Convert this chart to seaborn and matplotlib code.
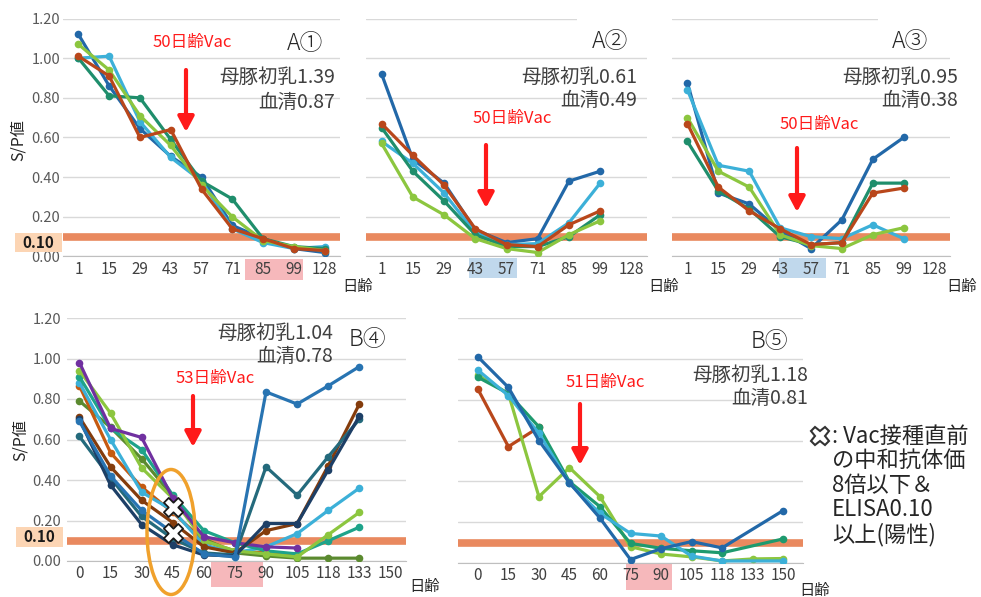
import numpy as np
import pandas as pd
import matplotlib
matplotlib.use("Agg")
import matplotlib.pyplot as plt
import seaborn as sns
from matplotlib.patches import Rectangle, Ellipse, FancyArrowPatch
from matplotlib.lines import Line2D

nan = np.nan

# ---------------- data ----------------
A_days = ["1", "15", "29", "43", "57", "71", "85", "99", "128"]
B_days = ["0", "15", "30", "45", "60", "75", "90", "105", "118", "133", "150"]

a1_blue   = [1.12, 0.86, 0.645, 0.505, 0.40, 0.157, 0.09, 0.04, 0.02]
a1_cyan   = [1.00, 1.01, 0.68, 0.50, 0.38, 0.14, 0.07, 0.04, 0.05]
a1_dgreen = [1.00, 0.81, 0.80, 0.59, 0.38, 0.29, 0.09, 0.05, 0.04]
a1_lgreen = [1.07, 0.94, 0.71, 0.56, 0.36, 0.20, 0.08, 0.05, 0.03]
a1_brown  = [1.01, 0.91, 0.60, 0.64, 0.34, 0.14, 0.09, 0.04, 0.03]

a2_blue   = [0.92, 0.49, 0.37, 0.135, 0.07, 0.09, 0.38, 0.43, nan]
a2_cyan   = [0.58, 0.47, 0.32, 0.12, 0.06, 0.065, 0.17, 0.37, nan]
a2_dgreen = [0.65, 0.43, 0.28, 0.11, 0.05, 0.05, 0.10, 0.21, nan]
a2_lgreen = [0.57, 0.30, 0.21, 0.09, 0.04, 0.02, 0.11, 0.18, nan]
a2_brown  = [0.67, 0.51, 0.36, 0.14, 0.06, 0.05, 0.16, 0.23, nan]

a3_blue   = [0.875, 0.32, 0.265, 0.13, 0.04, 0.185, 0.49, 0.60, nan]
a3_cyan   = [0.84, 0.46, 0.43, 0.145, 0.10, 0.09, 0.16, 0.09, nan]
a3_dgreen = [0.58, 0.33, 0.24, 0.10, 0.06, 0.07, 0.37, 0.37, nan]
a3_lgreen = [0.70, 0.43, 0.35, 0.11, 0.055, 0.04, 0.11, 0.145, nan]
a3_brown  = [0.67, 0.35, 0.23, 0.14, 0.06, 0.07, 0.32, 0.345, nan]

b4_purple = [0.98, 0.655, 0.61, 0.31, 0.12, 0.09, 0.07, 0.064, nan, nan, nan]
b4_lgreen = [0.94, 0.73, 0.46, 0.31, 0.10, 0.05, 0.035, 0.02, 0.13, 0.24, nan]
b4_teal   = [0.91, 0.655, 0.55, 0.325, 0.15, 0.09, 0.05, 0.035, 0.10, 0.167, nan]
b4_orange = [0.865, 0.535, 0.365, 0.24, 0.10, 0.05, 0.04, 0.03, nan, nan, nan]
b4_olive  = [0.79, 0.66, 0.505, 0.32, 0.11, 0.04, 0.025, 0.014, 0.014, 0.014, nan]
b4_cyan   = [0.88, 0.60, 0.34, 0.25, 0.08, 0.04, 0.07, 0.135, 0.25, 0.36, nan]
b4_dbrown = [0.71, 0.465, 0.30, 0.19, 0.07, 0.04, 0.15, 0.185, 0.47, 0.775, nan]
b4_dteal  = [0.615, 0.41, 0.22, 0.11, 0.04, 0.03, 0.465, 0.325, 0.515, 0.70, nan]
b4_blue   = [0.69, 0.42, 0.25, 0.14, 0.035, 0.02, 0.835, 0.775, 0.865, 0.96, nan]
b4_navy   = [0.70, 0.375, 0.18, 0.08, 0.03, 0.025, 0.185, 0.185, 0.45, 0.715, nan]

b4_mark_pos = [3, 3]          # day 45
b4_mark_val = [0.265, 0.14]

b5_blue   = [1.01, 0.86, 0.60, 0.393, 0.22, 0.017, 0.07, 0.105, 0.074, nan, 0.257]
b5_cyan   = [0.945, 0.82, 0.635, 0.39, 0.243, 0.145, 0.132, 0.034, 0.01, nan, 0.01]
b5_dgreen = [0.91, 0.83, 0.667, 0.398, 0.276, 0.096, 0.072, 0.06, 0.05, nan, 0.118]
b5_lgreen = [0.92, 0.83, 0.325, 0.467, 0.325, 0.08, 0.044, 0.03, 0.01, 0.02, 0.022]
b5_brown  = [0.852, 0.57, 0.665, nan, nan, nan, nan, nan, nan, nan, nan]

C_BLUE, C_CYAN, C_DGREEN, C_LGREEN, C_BROWN = "#2268a8", "#3cb0d8", "#1f8e6c", "#8cc63f", "#b9471b"

# ---------------- figure ----------------
W, H = 981, 597
sns.set_style("white")
plt.rcParams["font.family"] = ["Noto Sans CJK JP", "DejaVu Sans"]

fig = plt.figure(figsize=(W / 100, H / 100), dpi=100)


def fx(x):
    return x / W


def fy(y):
    return 1 - y / H


def add_ax(l, t, r, b):
    return fig.add_axes([l / W, 1 - b / H, (r - l) / W, (b - t) / H])


def ftext(x, y, s, **kw):
    kw.setdefault("ha", "center")
    kw.setdefault("va", "center")
    return fig.text(fx(x), fy(y), s, **kw)


def frect(l, t, r, b, color, z=-1):
    fig.add_artist(Rectangle((fx(l), fy(b)), (r - l) / W, (b - t) / H,
                             transform=fig.transFigure, facecolor=color,
                             edgecolor="none", zorder=z))


def panel(box, days, series, colors, xlim, show_y, ypad):
    ax = add_ax(*box)
    rows = []
    for name, vals in series.items():
        for i, v in enumerate(vals):
            if not np.isnan(v):
                rows.append({"pig": name, "pos": i, "val": v})
    df = pd.DataFrame(rows)
    ax.axhline(0.10, color="#e9895f", lw=5.5, zorder=1.5, solid_capstyle="butt")
    sns.lineplot(data=df, x="pos", y="val", hue="pig", hue_order=list(series),
                 palette=colors, marker="o", markersize=5.5, markeredgewidth=0,
                 linewidth=2.3, legend=False, errorbar=None, ax=ax, zorder=3)
    ax.set_xlim(*xlim)
    ax.set_ylim(0, 1.2)
    ax.set_xticks(range(len(days)))
    ax.set_xticklabels(days)
    yt = [0, 0.2, 0.4, 0.6, 0.8, 1.0, 1.2]
    ax.set_yticks(yt)
    ax.set_yticklabels([f"{v:.2f}" for v in yt])
    ax.grid(axis="y", color="#d9d9d9", lw=1)
    ax.grid(axis="x", visible=False)
    ax.set_axisbelow(True)
    for s in ["top", "right", "left"]:
        ax.spines[s].set_visible(False)
    ax.spines["bottom"].set_color("#bfbfbf")
    ax.tick_params(axis="x", length=0, labelsize=11, colors="#404040", pad=3)
    ax.tick_params(axis="y", length=0, labelsize=10.5, colors="#595959", pad=ypad,
                   labelleft=show_y)
    ax.set_xlabel("")
    ax.set_ylabel("")
    ax.patch.set_alpha(0)
    return ax


A_xlim = (-0.5, 8.5)

panel((63, 18.5, 340, 256.5), A_days,
      {"p1": a1_blue, "p2": a1_cyan, "p3": a1_dgreen, "p4": a1_lgreen, "p5": a1_brown},
      [C_BLUE, C_CYAN, C_DGREEN, C_LGREEN, C_BROWN], A_xlim, True, 2)
panel((366, 18.5, 647, 256.5), A_days,
      {"p1": a2_blue, "p2": a2_cyan, "p3": a2_dgreen, "p4": a2_lgreen, "p5": a2_brown},
      [C_BLUE, C_CYAN, C_DGREEN, C_LGREEN, C_BROWN], A_xlim, False, 2)
panel((672, 18.5, 950, 256.5), A_days,
      {"p1": a3_blue, "p2": a3_cyan, "p3": a3_dgreen, "p4": a3_lgreen, "p5": a3_brown},
      [C_BLUE, C_CYAN, C_DGREEN, C_LGREEN, C_BROWN], A_xlim, False, 2)

b4_series = {"q1": b4_olive, "q2": b4_orange, "q3": b4_cyan, "q4": b4_teal,
             "q5": b4_lgreen, "q6": b4_purple, "q7": b4_dbrown, "q8": b4_dteal,
             "q9": b4_navy, "q10": b4_blue}
b4_colors = ["#5b8a2f", "#c55a11", "#3cb0d8", "#1ea38a", "#8cc63f", "#7030a0",
             "#843c0c", "#246a7c", "#1d3f66", "#2874b2"]
ax4 = panel((67, 318, 406, 561), B_days, b4_series, b4_colors, (-0.4, 10.5), True, 4.3)
sns.scatterplot(x=b4_mark_pos, y=b4_mark_val, marker="X", s=190, color="white",
                edgecolor="#1a1a1a", linewidth=1.3, zorder=6, ax=ax4, legend=False,
                clip_on=False)
ax4.set_xlabel("")
ax4.set_ylabel("")

panel((458, 318, 803, 563), B_days,
      {"r5": b5_brown, "r4": b5_lgreen, "r3": b5_dgreen, "r2": b5_cyan, "r1": b5_blue},
      ["#b9471b", "#8cc63f", "#1e9a6e", "#3cb0d8", "#2268a8"], (-0.65, 10.65), False, 2)

# ---------- highlight boxes behind tick labels ----------
PINK, LBLUE, PEACH = "#f6b8bb", "#c0d8ec", "#fcd5b4"
frect(245, 259, 303, 280, PINK)
frect(469, 258, 517, 278, LBLUE)
frect(779, 258, 826, 278, LBLUE)
frect(211, 562, 263, 587, PINK)
frect(626, 563, 672, 590, PINK)
frect(15, 233, 62, 252, PEACH, z=1)
frect(16, 527, 63, 547, PEACH, z=1)
ftext(38.5, 242.5, "0.10", fontsize=11, fontweight="bold", color="#1a1a1a", zorder=4)
ftext(39.5, 537, "0.10", fontsize=11, fontweight="bold", color="#1a1a1a", zorder=4)

# hidden parts of the top gridline in A2 / A3
frect(577, 14, 650, 24, "white", z=1)
frect(878, 14, 952, 24, "white", z=1)

# ---------- axis labels ----------
for x, y in [(358, 287), (664, 287), (962, 287), (425, 587), (815, 590)]:
    ftext(x, y, "日齢", fontsize=11, color="#262626")
ftext(18, 140, "S/P値", fontsize=11.5, rotation=90, color="#262626")
ftext(20, 440, "S/P値", fontsize=11.5, rotation=90, color="#262626")

# ---------- titles ----------
for x, y, s in [(305, 43, "A①"), (610, 42, "A②"), (910, 42, "A③"),
                (367, 340, "B④"), (769, 342, "B⑤")]:
    ftext(x, y, s, fontsize=16.5, color="#262626", fontweight="light")

# ---------- maternal info ----------
info = [(335, 77, 102, "1.39", "0.87"), (637, 77, 100, "0.61", "0.49"),
        (958, 77, 100, "0.95", "0.38"), (333, 333, 356, "1.04", "0.78"),
        (808, 375, 398, "1.18", "0.81")]
for xr, y1, y2, c, s in info:
    ftext(xr, y1, "母豚初乳" + c, ha="right", fontsize=14, color="#404040")
    ftext(xr, y2, "血清" + s, ha="right", fontsize=14, color="#404040")

# ---------- vaccination labels & arrows ----------
vac = [(192, 43, "50日齢Vac", 186, 70, 132),
       (512, 118, "50日齢Vac", 486, 145, 208),
       (819, 125, "50日齢Vac", 797, 148, 212),
       (215, 378, "53日齢Vac", 193, 396, 447),
       (605, 382, "51日齢Vac", 580, 404, 465)]
for tx, ty, s, ax_x, y0, y1 in vac:
    ftext(tx, ty, s, fontsize=12, color="#ff1a1a")
    fig.add_artist(FancyArrowPatch((fx(ax_x), fy(y0)), (fx(ax_x), fy(y1)),
                                   transform=fig.transFigure,
                                   arrowstyle="-|>,head_width=0.4,head_length=0.75",
                                   mutation_scale=12, color="#ff1a1a", lw=3,
                                   shrinkA=0, shrinkB=0, zorder=5))

# ---------- orange ellipse ----------
fig.add_artist(Ellipse((fx(171), fy(532)), 48 / W, 125 / H, transform=fig.transFigure,
                       fill=False, edgecolor="#f0a12c", lw=2.5, zorder=5))

# ---------- note ----------
fig.add_artist(Line2D([fx(820)], [fy(436)], marker="X", markersize=13,
                      markerfacecolor="white", markeredgecolor="#333333",
                      markeredgewidth=1.5, linestyle="none",
                      transform=fig.transFigure, zorder=5))
note_lines = [(436, ": Vac接種直前"), (460.5, "の中和抗体価"), (485, "8倍以下＆"),
              (510, "ELISA0.10"), (535, "以上(陽性)")]
for y, s in note_lines:
    ftext(832, y, s, ha="left", fontsize=16, color="#262626")

fig.savefig("out.png", dpi=100)
